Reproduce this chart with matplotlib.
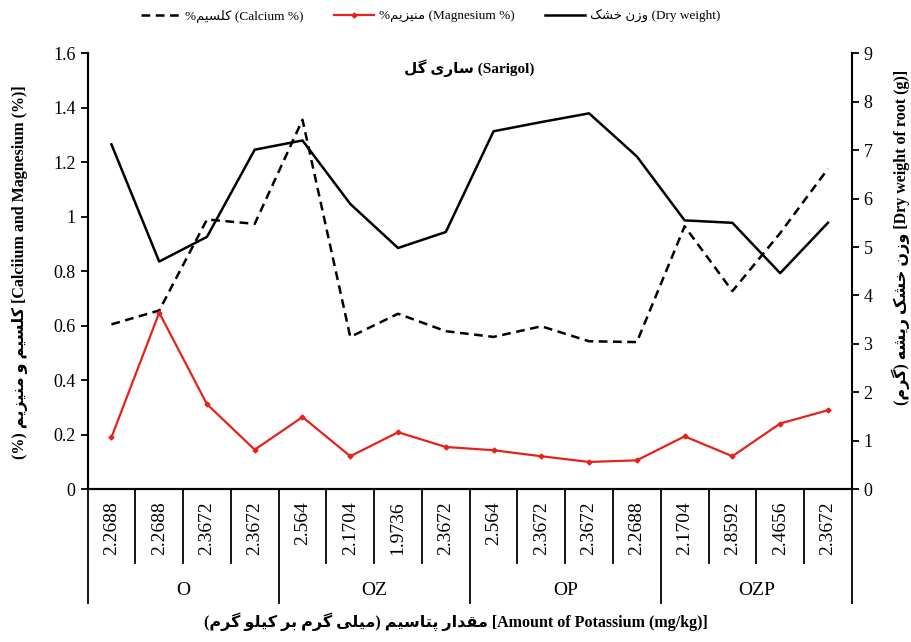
import numpy as np
import matplotlib
matplotlib.use('Agg')
from matplotlib import pyplot as plt

plt.rcParams['font.family'] = ['Liberation Serif', 'DejaVu Sans']

groups = ['O', 'OZ', 'OP', 'OZP']
potassium = ['2.2688', '2.2688', '2.3672', '2.3672',
             '2.564', '2.1704', '1.9736', '2.3672',
             '2.564', '2.3672', '2.3672', '2.2688',
             '2.1704', '2.8592', '2.4656', '2.3672']
calcium = [0.605, 0.656, 0.99, 0.974, 1.356, 0.559, 0.644, 0.58,
           0.559, 0.598, 0.543, 0.54, 0.965, 0.727, 0.94, 1.176]
magnesium = [0.19, 0.648, 0.312, 0.145, 0.265, 0.121, 0.209, 0.155,
             0.143, 0.121, 0.10, 0.106, 0.194, 0.121, 0.241, 0.29]
dry_weight = [7.12, 4.70, 5.21, 7.01, 7.20, 5.89, 4.98, 5.31,
              7.39, 7.58, 7.76, 6.87, 5.55, 5.50, 4.46, 5.50]

# persian letters -> (isolated, final, initial, medial) presentation forms
FORMS = {
    'ا': (0xFE8D, 0xFE8E, None, None),
    'ب': (0xFE8F, 0xFE90, 0xFE91, 0xFE92),
    'پ': (0xFB56, 0xFB57, 0xFB58, 0xFB59),
    'ت': (0xFE95, 0xFE96, 0xFE97, 0xFE98),
    'خ': (0xFEA5, 0xFEA6, 0xFEA7, 0xFEA8),
    'د': (0xFEA9, 0xFEAA, None, None),
    'ر': (0xFEAD, 0xFEAE, None, None),
    'ز': (0xFEAF, 0xFEB0, None, None),
    'س': (0xFEB1, 0xFEB2, 0xFEB3, 0xFEB4),
    'ش': (0xFEB5, 0xFEB6, 0xFEB7, 0xFEB8),
    'ق': (0xFED5, 0xFED6, 0xFED7, 0xFED8),
    'ک': (0xFB8E, 0xFB8F, 0xFB90, 0xFB91),
    'گ': (0xFB92, 0xFB93, 0xFB94, 0xFB95),
    'ل': (0xFEDD, 0xFEDE, 0xFEDF, 0xFEE0),
    'م': (0xFEE1, 0xFEE2, 0xFEE3, 0xFEE4),
    'ن': (0xFEE5, 0xFEE6, 0xFEE7, 0xFEE8),
    'ه': (0xFEE9, 0xFEEA, 0xFEEB, 0xFEEC),
    'و': (0xFEED, 0xFEEE, None, None),
    'ی': (0xFBFC, 0xFBFD, 0xFBFE, 0xFBFF),
}


def fa(s):
    # join letters, then reverse the whole phrase into visual (left to right) order
    out = []
    for i, ch in enumerate(s):
        if ch not in FORMS:
            out.append(ch)
            continue
        prev = s[i - 1] if i > 0 else None
        nxt = s[i + 1] if i + 1 < len(s) else None
        jp = prev in FORMS and FORMS[prev][2] is not None
        jn = nxt in FORMS and FORMS[ch][2] is not None
        iso, fin, ini, med = FORMS[ch]
        if jp and jn:
            c = med
        elif jp:
            c = fin
        elif jn:
            c = ini
        else:
            c = iso
        out.append(chr(c))
    return ''.join(reversed(out))


fig = plt.figure(figsize=(9.12, 6.42), dpi=100)
ax = fig.add_axes([0.096, 0.238, 0.838, 0.679])
ax2 = ax.twinx()

x = np.arange(len(potassium))
l1, = ax.plot(x, calcium, color='black', lw=1.8, ls=(0, (3.5, 2.2)))
l2, = ax.plot(x, magnesium, color='#e3231c', lw=1.6, marker='D', ms=2.5)
l3, = ax2.plot(x, dry_weight, color='black', lw=1.8)

ax.set_xlim(-0.5, len(x) - 0.5)
ax.set_ylim(0, 1.6)
ax.set_yticks(np.arange(0, 1.61, 0.2))
ax.set_yticklabels(['{:g}'.format(round(v, 1)) for v in np.arange(0, 1.61, 0.2)])
ax2.set_ylim(0, 9)
ax2.set_yticks(range(10))

ax.set_xticks(x)
ax.set_xticklabels(potassium, rotation=90, fontsize=14)
ax.tick_params(axis='x', length=0, pad=9)
ax.tick_params(axis='y', direction='out', length=5, width=1.3, labelsize=13)
ax2.tick_params(axis='y', direction='out', length=5, width=1.3, labelsize=13)

for a in (ax, ax2):
    a.spines['top'].set_visible(False)
    for sp in a.spines.values():
        sp.set_linewidth(1.5)
ax.spines['right'].set_visible(False)

# category separators and group labels under the axis
for b in range(len(x) + 1):
    depth = -0.262 if b % 4 == 0 else -0.17
    ax.plot([b - 0.5, b - 0.5], [0, depth], transform=ax.get_xaxis_transform(),
            clip_on=False, color='black', lw=1.3)
for i, g in enumerate(groups):
    ax.text(i * 4 + 1.5, -0.232, g, transform=ax.get_xaxis_transform(),
            ha='center', va='center', fontsize=14)

ax.text(0.5, 0.965, fa('ساری گل') + ' (Sarigol)', transform=ax.transAxes,
        ha='center', va='center', fontsize=11, fontweight='bold')

fig.text(0.022, 0.576, '(%) ' + fa('کلسیم و منیزیم') + ' [Calciium and Magnesium (%)]',
         rotation=90, ha='center', va='center', fontsize=11.5, fontweight='bold')
fig.text(0.988, 0.63, '(' + fa('گرم') + ') ' + fa('وزن خشک ریشه') + ' [Dry weight of root (g)]',
         rotation=90, ha='center', va='center', fontsize=11.5, fontweight='bold')
fig.text(0.5, 0.031, '(' + fa('میلی گرم بر کیلو گرم') + ') ' + fa('مقدار پتاسیم')
         + ' [Amount of Potassium (mg/kg)]',
         ha='center', va='center', fontsize=11.5, fontweight='bold')

fig.legend([l1, l2, l3],
           ['%' + fa('کلسیم') + ' (Calcium %)',
            '%' + fa('منیزیم') + ' (Magnesium %)',
            fa('وزن خشک') + ' (Dry weight)'],
           loc='center', bbox_to_anchor=(0.472, 0.975), ncol=3, frameon=False,
           fontsize=9.5, handlelength=3.0, columnspacing=2.3, handletextpad=0.4)

fig.savefig('out.png', dpi=100)
